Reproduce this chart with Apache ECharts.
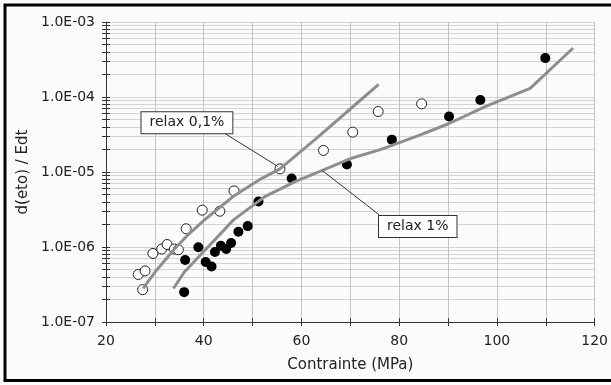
<!DOCTYPE html>
<html lang="fr">
<head>
    <meta charset="UTF-8">
    <title>d(eto)/Edt - Contrainte</title>
    <script type="text/javascript" src="https://cdn.jsdelivr.net/npm/echarts@6/dist/echarts.min.js"></script>
    <style>
        body{margin:0;background:#fbfbfb;}
    </style>
</head>
<body>
<div id="chartmain" style="width:611px;height:385px"></div>
<script>
    // points mesures, relax 0,1% (cercles vides)
    var openX = [26.6, 28.0, 27.5, 29.6, 31.4, 32.5, 34.0, 34.8, 36.4, 39.7, 43.3, 46.2, 55.6, 64.5, 70.5, 75.7, 84.6];
    var openY = [4.3e-7, 4.8e-7, 2.7e-7, 8.2e-7, 9.4e-7, 1.08e-6, 9.4e-7, 9.2e-7, 1.75e-6, 3.1e-6, 3.0e-6, 5.6e-6, 1.1e-5, 1.94e-5, 3.4e-5, 6.4e-5, 8.1e-5];
    // points mesures, relax 1% (cercles pleins)
    var fullX = [36.2, 36.0, 38.9, 40.4, 41.6, 42.3, 43.5, 44.6, 45.6, 47.1, 49.0, 51.2, 58.0, 69.3, 78.5, 90.2, 96.6, 109.9];
    var fullY = [6.7e-7, 2.5e-7, 9.9e-7, 6.3e-7, 5.5e-7, 8.6e-7, 1.04e-6, 9.4e-7, 1.13e-6, 1.6e-6, 1.9e-6, 4.05e-6, 8.2e-6, 1.26e-5, 2.7e-5, 5.5e-5, 9.1e-5, 3.3e-4];
    // courbes modele
    var curve01X = [27.6, 30, 34, 37, 40.5, 46, 51.4, 55.6, 63.6, 70.4, 75.8];
    var curve01Y = [2.8e-7, 4.6e-7, 9.4e-7, 1.5e-6, 2.4e-6, 4.7e-6, 7.9e-6, 1.1e-5, 3.0e-5, 7.3e-5, 1.47e-4];
    var curve1X = [33.8, 36, 39.7, 43, 46.1, 52.5, 58.8, 64.3, 69.9, 76.3, 84.2, 90.1, 97.7, 106.8, 115.6];
    var curve1Y = [2.8e-7, 4.6e-7, 8.3e-7, 1.4e-6, 2.3e-6, 4.7e-6, 7.5e-6, 1.05e-5, 1.5e-5, 2.0e-5, 3.1e-5, 4.4e-5, 7.5e-5, 1.3e-4, 4.5e-4];
    // axes
    var xTicks = [20, 40, 60, 80, 100, 120];
    var yMajor = [1e-7, 1e-6, 1e-5, 1e-4, 1e-3];
    var yMinor = [];
    for (var d = -7; d < -3; d++) {
        for (var m = 1; m <= 9; m++) {
            yMinor.push(Number((m + 'e' + d)));
        }
    }
    yMinor.push(1e-3);

    function pairs(xs, ys){
        var out = [];
        for (var i = 0; i < xs.length; i++) out.push([xs[i], ys[i]]);
        return out;
    }
    function fmtE(v){
        var e = Math.round(Math.log(v) / Math.LN10);
        var a = Math.abs(e);
        return '1.0E' + (e < 0 ? '-' : '+') + (a < 10 ? '0' : '') + a;
    }

    var font = 'DejaVu Sans';
    var curveColor = '#8e8e8e';

    var option = {
        backgroundColor: '#fbfbfb',
        animation: false,
        textStyle: {fontFamily: font},
        graphic: [{
            type: 'polyline',
            shape: {points: [[640, 5], [5, 5], [5, 380.5], [640, 380.5]]},
            style: {stroke: '#000', lineWidth: 3, fill: null},
            silent: true
        }],
        grid: {left: 106, right: 14, top: 22, bottom: 63},
        xAxis: [{
            type: 'value',
            min: 20, max: 120, interval: 10,
            name: 'Contrainte (MPa)',
            nameLocation: 'middle',
            nameGap: 36,
            nameTextStyle: {fontSize: 15, color: '#222', fontFamily: font},
            axisLine: {lineStyle: {color: '#333', width: 1}},
            axisTick: {show: true, length: 4, lineStyle: {color: '#333'}},
            axisLabel: {customValues: xTicks, fontSize: 14, color: '#222', margin: 12, fontFamily: font},
            splitLine: {show: true, lineStyle: {color: '#c4c4c4', width: 1}}
        }, {
            type: 'value',
            min: 20, max: 120, interval: 10,
            position: 'bottom',
            axisLine: {show: false},
            axisTick: {show: true, inside: true, length: 4, lineStyle: {color: '#333'}},
            axisLabel: {show: false},
            splitLine: {show: false}
        }],
        yAxis: [{
            type: 'log',
            logBase: 10,
            min: 1e-7, max: 1e-3,
            name: 'd(eto) / Edt',
            nameLocation: 'middle',
            nameGap: 72,
            nameTextStyle: {fontSize: 15, color: '#222', fontFamily: font},
            axisLine: {show: true, lineStyle: {color: '#333', width: 1}},
            axisTick: {show: true, length: 4, customValues: yMinor, lineStyle: {color: '#333'}},
            axisLabel: {customValues: yMajor, formatter: fmtE, fontSize: 14, color: '#222', margin: 11, fontFamily: font},
            splitLine: {show: true, lineStyle: {color: '#d4d4d4', width: 1}}
        }, {
            type: 'log',
            logBase: 10,
            min: 1e-7, max: 1e-3,
            position: 'left',
            axisLine: {show: false},
            axisTick: {show: true, inside: true, length: 4, customValues: yMinor, lineStyle: {color: '#333'}},
            axisLabel: {show: false},
            splitLine: {show: false}
        }],
        series: [
            {
                name: 'mesures relax 0,1%',
                type: 'scatter',
                data: pairs(openX, openY),
                symbol: 'circle',
                symbolSize: 10,
                itemStyle: {color: '#fff', borderColor: '#222', borderWidth: 1, opacity: 1},
                z: 3
            },
            {
                name: 'mesures relax 1%',
                type: 'scatter',
                data: pairs(fullX, fullY),
                symbol: 'circle',
                symbolSize: 10,
                itemStyle: {color: '#000', opacity: 1},
                z: 3
            },
            {
                name: 'relax 0,1%',
                type: 'line',
                data: pairs(curve01X, curve01Y),
                showSymbol: false,
                lineStyle: {color: curveColor, width: 3},
                z: 4
            },
            {
                name: 'relax 1%',
                type: 'line',
                data: pairs(curve1X, curve1Y),
                showSymbol: false,
                lineStyle: {color: curveColor, width: 3},
                z: 4
            },
            // traits de rappel
            {
                type: 'line',
                data: [[44.4, 3.24e-5], [55.15, 1.19e-5]],
                showSymbol: false,
                lineStyle: {color: '#333', width: 1},
                z: 5
            },
            {
                type: 'line',
                data: [[75.86, 2.70e-6], [64.3, 1.04e-5]],
                showSymbol: false,
                lineStyle: {color: '#333', width: 1},
                z: 5
            },
            // etiquettes
            {
                type: 'scatter',
                symbol: 'circle',
                symbolSize: 1,
                itemStyle: {color: 'rgba(0,0,0,0)', opacity: 1},
                data: [[36.56, 4.54e-5, 'relax 0,1%'], [83.8, 1.87e-6, 'relax 1%']],
                label: {
                    show: true,
                    position: 'inside',
                    formatter: function(p){ return p.value[2]; },
                    fontSize: 14,
                    color: '#222',
                    fontFamily: font,
                    backgroundColor: '#fff',
                    borderColor: '#333',
                    borderWidth: 1,
                    padding: [4, 8, 3, 8]
                },
                z: 6
            }
        ]
    };

    var myChart = echarts.init(document.getElementById('chartmain'));
    myChart.setOption(option);
</script>
</body>
</html>
